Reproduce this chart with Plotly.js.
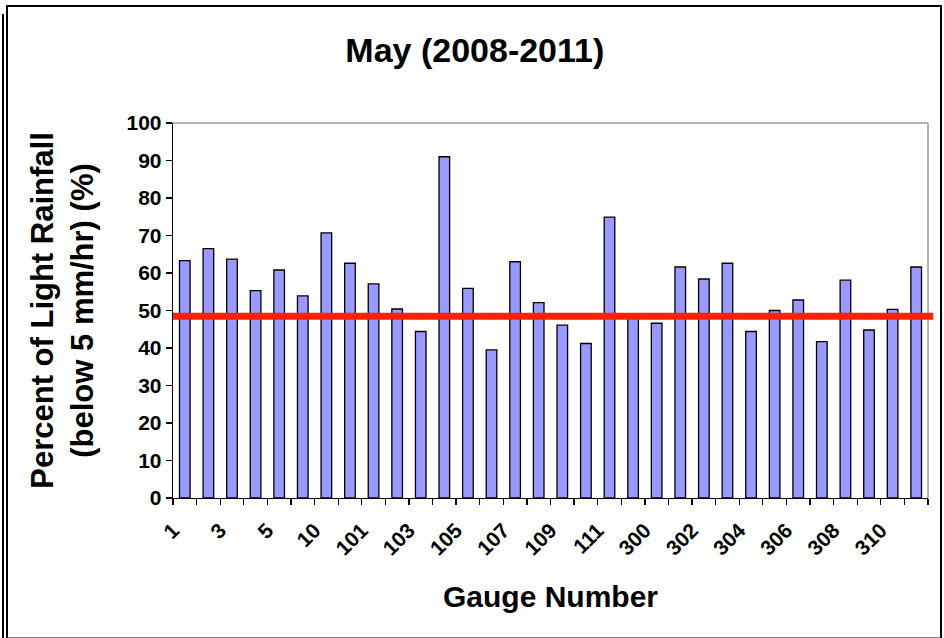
<!DOCTYPE html>
<html>
<head>
<meta charset="utf-8">
<script src="https://cdn.plot.ly/plotly-3.0.1.min.js"></script>
<style>
  body { margin: 0; background: #fff; }
  #chart { position: absolute; left: 0; top: 0; width: 944px; height: 638px; }
  #frame { position: absolute; left: 6px; top: 5px; width: 932px; height: 630px; border: 2px solid #000; border-bottom-color: #808080; pointer-events: none; }
  #frame2 { position: absolute; left: 2px; top: 14px; width: 2px; height: 624px; background: #000; pointer-events: none; }
</style>
</head>
<body>
<div id="chart"></div>
<div id="frame"></div>
<div id="frame2"></div>
<script>
const gauges = ["1","2","3","4","5","6","10","11","101","102","103","104","105","106","107","108","109","110","111","112","300","301","302","303","304","305","306","307","308","309","310","311"];
const lightRainPct = [63.3,66.5,63.7,55.3,60.8,53.9,70.7,62.6,57.1,50.4,44.4,91.0,55.9,39.5,63.0,52.1,46.1,41.2,74.9,48.0,46.6,61.6,58.4,62.6,44.4,50.0,52.8,41.7,58.1,44.8,50.3,61.6];
const averagePct = 48.5;
// every other gauge is labelled, as in the original chart
const labelledGauges = gauges.filter((g, i) => i % 2 === 0);

const fontFam = "Liberation Sans, Arial, sans-serif";
const labelShift = -0.499; // label text ends slightly left of bar centre (Excel style)

const bars = {
  type: "bar",
  x: gauges,
  y: lightRainPct,
  marker: { color: "#9999ff", line: { color: "#000000", width: 1.3 } },
  hoverinfo: "x+y"
};

// empty helper trace so that the label axis (x2) is drawn
const labelAxisHolder = {
  type: "scatter", mode: "markers", x: [], y: [],
  xaxis: "x2", yaxis: "y", showlegend: false, hoverinfo: "skip"
};

const layout = {
  width: 944, height: 638,
  margin: { l: 173, r: 16, t: 123, b: 140 },
  paper_bgcolor: "#ffffff",
  plot_bgcolor: "#ffffff",
  bargap: 0.55,
  showlegend: false,
  font: { family: fontFam, color: "#000", size: 21, weight: "bold" },
  title: {
    text: "May (2008-2011)",
    font: { family: fontFam, size: 34, color: "#000", weight: "bold" },
    x: 0.503, xanchor: "center", y: 0.922, yanchor: "middle"
  },
  xaxis: {
    type: "category",
    range: [-0.5, gauges.length - 0.5],
    tickmode: "array",
    tickvals: gauges,
    ticktext: gauges.map(() => ""),
    showticklabels: false,
    tickson: "boundaries",
    ticks: "outside", ticklen: 6, tickwidth: 1.3, tickcolor: "#000",
    showline: true, linecolor: "#000", linewidth: 1.3,
    showgrid: false, zeroline: false
  },
  xaxis2: {
    type: "linear",
    overlaying: "x",
    anchor: "y",
    side: "bottom",
    range: [-0.5, gauges.length - 0.5],
    tickmode: "array",
    tickvals: gauges.map((g, i) => i).filter(i => i % 2 === 0).map(i => i + labelShift),
    ticktext: labelledGauges,
    tickangle: -45,
    ticklabelstandoff: 15,
    ticks: "",
    showline: false, showgrid: false, zeroline: false,
    tickfont: { family: fontFam, size: 21, color: "#000", weight: "bold" },
    title: { text: "Gauge Number", font: { family: fontFam, size: 30, color: "#000", weight: "bold" }, standoff: 27 }
  },
  yaxis: {
    range: [0, 100],
    tickmode: "linear", tick0: 0, dtick: 10,
    ticks: "outside", ticklen: 6, tickwidth: 1.3, tickcolor: "#000",
    showline: true, linecolor: "#000", linewidth: 1.3,
    showgrid: false, zeroline: false,
    tickfont: { family: fontFam, size: 21, color: "#000", weight: "bold" },
    title: { text: "Percent of Light Rainfall<br>(below 5 mm/hr) (%)", font: { family: fontFam, size: 31, color: "#000", weight: "bold" }, standoff: 23 }
  },
  shapes: [
    { type: "line", xref: "paper", yref: "paper", x0: 0, x1: 1, y0: 1, y1: 1, line: { color: "#9a9a9a", width: 1.5 } },
    { type: "line", xref: "paper", yref: "paper", x0: 1, x1: 1, y0: 0, y1: 1, line: { color: "#9a9a9a", width: 1.5 } },
    { type: "line", xref: "paper", yref: "y", x0: 0, x1: 1.007, y0: averagePct, y1: averagePct, line: { color: "#ff2200", width: 7 } }
  ]
};

Plotly.newPlot("chart", [bars, labelAxisHolder], layout, { displayModeBar: false, staticPlot: true });
</script>
</body>
</html>
